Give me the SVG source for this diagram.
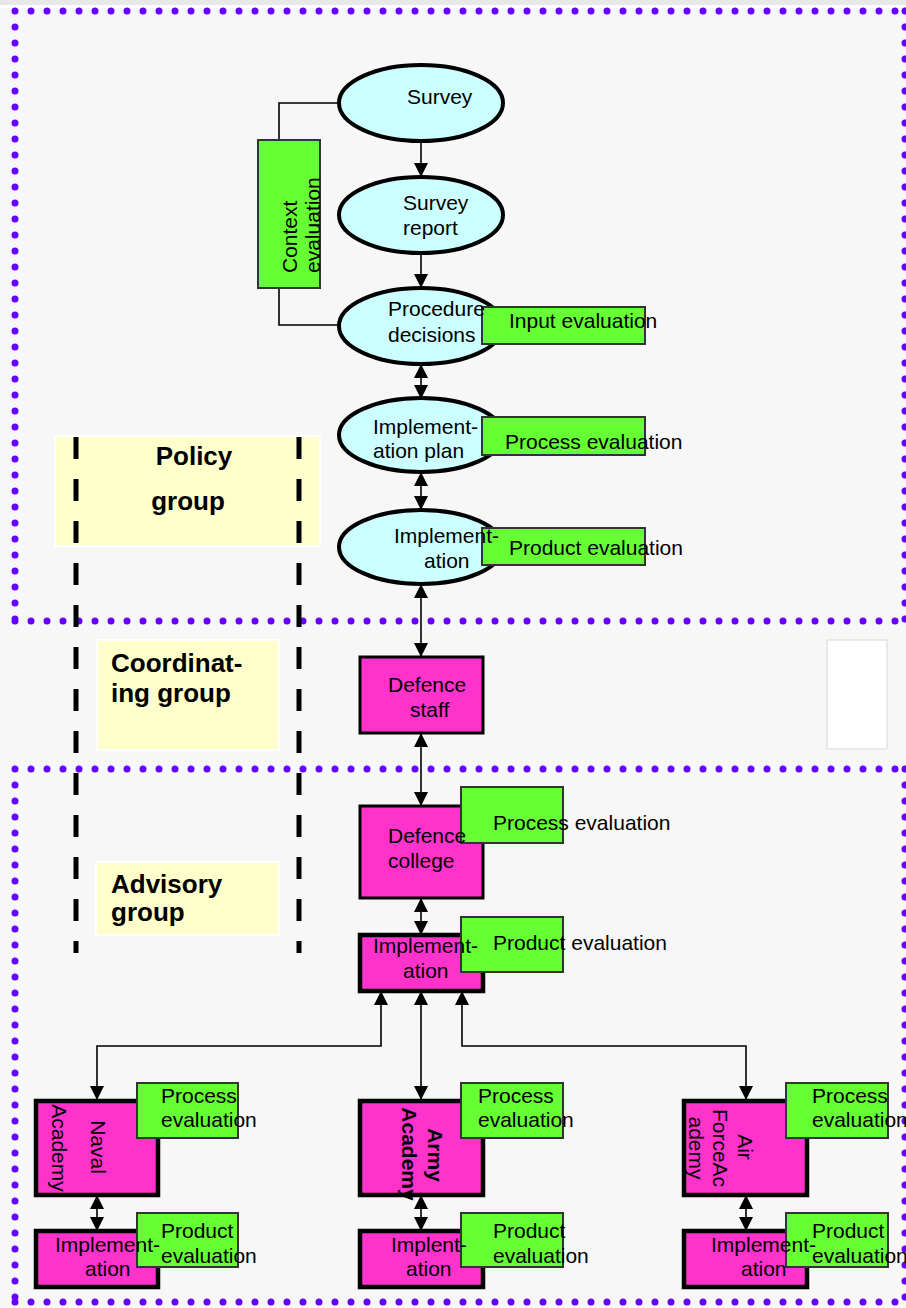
<svg xmlns="http://www.w3.org/2000/svg" width="906" height="1308" viewBox="0 0 906 1308">
<defs>
  <marker id="ah" markerUnits="userSpaceOnUse" markerWidth="14" markerHeight="14" refX="14" refY="7" orient="auto-start-reverse">
    <path d="M0,0 L14,7 L0,14 Z" fill="#000"/>
  </marker>
</defs>
<style>
  text{font-family:"Liberation Sans",Arial,sans-serif;font-size:21px;fill:#000}
  .grp{font-size:26px;font-weight:bold}
  .b{font-weight:bold}
  .ell{fill:#ccffff;stroke:#000;stroke-width:4}
  .ev{fill:#66ff33;stroke:#333;stroke-width:2}
  .mg{fill:#ff33cc;stroke:#000;stroke-width:3}
  .mg4{fill:#ff33cc;stroke:#000;stroke-width:4.5}
  .lab{fill:#ffffcc;stroke:#fff;stroke-width:2}
  .dot{fill:none;stroke:#6600ff;stroke-width:7;stroke-linecap:round;stroke-dasharray:0 16}
  .dash{stroke:#000;stroke-width:5;stroke-dasharray:22 20}
  .con{fill:none;stroke:#000;stroke-width:1.6}
  .arr{marker-end:url(#ah)}
  .arr2{marker-start:url(#ah);marker-end:url(#ah)}
</style>

<!-- page -->
<rect x="0" y="0" width="906" height="1308" fill="#f7f7f7"/>
<rect x="0" y="0" width="906" height="5" fill="#e8e8e8"/>
<rect x="0" y="5" width="906" height="3" fill="#ffffff"/>

<!-- zone frames -->
<g id="zones">
  <path class="dot" d="M15,11 H905 M15,11 V621 M905,11 V621 M15,621 H905"/>
  <path class="dot" d="M15,769 H905 M15,769 V1302 M905,769 V1302 M15,1302 H905"/>
</g>

<!-- group labels -->
<g id="policy-group">
  <rect class="lab" x="55" y="436" width="265" height="110"/>
  <text class="grp" x="194" y="465" text-anchor="middle">Policy</text>
  <text class="grp" x="188" y="510" text-anchor="middle">group</text>
</g>
<g id="coordinating-group">
  <rect class="lab" x="97" y="640" width="182" height="110"/>
  <text class="grp" x="111" y="672">Coordinat-</text>
  <text class="grp" x="111" y="702">ing group</text>
</g>
<g id="advisory-group">
  <rect class="lab" x="96" y="862" width="183" height="73"/>
  <text class="grp" x="111" y="893">Advisory</text>
  <text class="grp" x="111" y="921">group</text>
</g>
<g id="blank-panel">
  <rect x="827" y="640" width="60" height="109" fill="#ffffff" stroke="#e4e4e4" stroke-width="1.5"/>
</g>

<!-- group boundaries -->
<g id="bounds">
  <line class="dash" x1="76" y1="437" x2="76" y2="953"/>
  <line class="dash" x1="299" y1="437" x2="299" y2="953"/>
</g>

<!-- connectors -->
<g id="connectors">
  <path class="con" d="M338,103 H279 V140"/>
  <path class="con" d="M279,288 V325 H338"/>
  <line class="con arr" x1="421" y1="141" x2="421" y2="177"/>
  <line class="con arr" x1="421" y1="253" x2="421" y2="288"/>
  <line class="con arr2" x1="421" y1="364" x2="421" y2="399"/>
  <line class="con arr2" x1="421" y1="472" x2="421" y2="510"/>
  <line class="con arr2" x1="421" y1="584" x2="421" y2="657"/>
  <line class="con arr2" x1="421" y1="733" x2="421" y2="806"/>
  <line class="con arr2" x1="421" y1="898" x2="421" y2="935"/>
  <path class="con arr2" d="M381,991 V1046 H97 V1100"/>
  <line class="con arr2" x1="421" y1="991" x2="421" y2="1100"/>
  <path class="con arr2" d="M462,991 V1046 H746 V1100"/>
  <line class="con arr2" x1="97" y1="1195" x2="97" y2="1231"/>
  <line class="con arr2" x1="421" y1="1195" x2="421" y2="1231"/>
  <line class="con arr2" x1="746" y1="1195" x2="746" y2="1231"/>
</g>

<!-- policy level -->
<g id="context-evaluation">
  <rect class="ev" x="258" y="140" width="62" height="148"/>
  <text transform="translate(297,273) rotate(-90)">Context</text>
  <text transform="translate(320,273) rotate(-90)">evaluation</text>
</g>
<g id="survey">
  <ellipse class="ell" cx="421" cy="103" rx="82" ry="38"/>
  <text x="407" y="104">Survey</text>
</g>
<g id="survey-report">
  <ellipse class="ell" cx="421" cy="215" rx="82" ry="38"/>
  <text x="403" y="210">Survey</text>
  <text x="403" y="235">report</text>
</g>
<g id="procedure-decisions">
  <ellipse class="ell" cx="421" cy="326" rx="82" ry="38"/>
  <g id="input-evaluation"><rect class="ev" x="482" y="307" width="163" height="37"/></g>
  <text x="388" y="316">Procedure</text>
  <text x="388" y="342">decisions</text>
  <text x="509" y="328">Input evaluation</text>
</g>
<g id="implementation-plan">
  <ellipse class="ell" cx="421" cy="435" rx="82" ry="37"/>
  <g id="process-evaluation-1"><rect class="ev" x="482" y="417" width="163" height="38"/></g>
  <text x="373" y="434">Implement-</text>
  <text x="373" y="458">ation plan</text>
  <text x="505" y="449">Process evaluation</text>
</g>
<g id="implementation-1">
  <ellipse class="ell" cx="421" cy="547" rx="82" ry="37"/>
  <g id="product-evaluation-1"><rect class="ev" x="482" y="528" width="163" height="37"/></g>
  <text x="394" y="543">Implement-</text>
  <text x="424" y="568">ation</text>
  <text x="509" y="555">Product evaluation</text>
</g>

<!-- coordinating level -->
<g id="defence-staff">
  <rect class="mg" x="360" y="657" width="123" height="76"/>
  <text x="388" y="692">Defence</text>
  <text x="410" y="717">staff</text>
</g>

<!-- advisory level -->
<g id="defence-college">
  <rect class="mg" x="360" y="806" width="123" height="92"/>
  <g id="process-evaluation-2"><rect class="ev" x="461" y="787" width="102" height="56"/></g>
  <text x="388" y="843">Defence</text>
  <text x="388" y="868">college</text>
  <text x="493" y="830">Process evaluation</text>
</g>
<g id="implementation-2">
  <rect class="mg4" x="360" y="935" width="123" height="56"/>
  <g id="product-evaluation-2"><rect class="ev" x="461" y="917" width="102" height="55"/></g>
  <text x="373" y="953">Implement-</text>
  <text x="403" y="978">ation</text>
  <text x="493" y="950">Product evaluation</text>
</g>

<g id="naval-academy">
  <rect class="mg4" x="36" y="1101" width="122" height="94"/>
  <g id="process-evaluation-naval"><rect class="ev" x="137" y="1083" width="101" height="55"/></g>
  <text transform="translate(91,1147) rotate(90)" text-anchor="middle">Naval</text>
  <text transform="translate(52,1148) rotate(90)" text-anchor="middle">Academy</text>
  <text x="161" y="1103">Process</text>
  <text x="161" y="1127">evaluation</text>
</g>
<g id="naval-implementation">
  <rect class="mg4" x="36" y="1231" width="122" height="56"/>
  <g id="product-evaluation-naval"><rect class="ev" x="137" y="1213" width="101" height="54"/></g>
  <text x="55" y="1252">Implement-</text>
  <text x="85" y="1276">ation</text>
  <text x="161" y="1238">Product</text>
  <text x="161" y="1263">evaluation</text>
</g>

<g id="army-academy">
  <rect class="mg4" x="360" y="1101" width="123" height="94"/>
  <g id="process-evaluation-army"><rect class="ev" x="461" y="1083" width="102" height="55"/></g>
  <text class="b" transform="translate(428,1155) rotate(90)" text-anchor="middle">Army</text>
  <text class="b" transform="translate(402,1154) rotate(90)" text-anchor="middle">Academy</text>
  <text x="478" y="1103">Process</text>
  <text x="478" y="1127">evaluation</text>
</g>
<g id="army-implementation">
  <rect class="mg4" x="360" y="1231" width="123" height="56"/>
  <g id="product-evaluation-army"><rect class="ev" x="461" y="1213" width="102" height="54"/></g>
  <text x="391" y="1252">Implent-</text>
  <text x="406" y="1276">ation</text>
  <text x="493" y="1238">Product</text>
  <text x="493" y="1263">evaluation</text>
</g>

<g id="air-force-academy">
  <rect class="mg4" x="684" y="1101" width="123" height="94"/>
  <g id="process-evaluation-air"><rect class="ev" x="786" y="1083" width="102" height="55"/></g>
  <text transform="translate(738,1147) rotate(90)" text-anchor="middle">Air</text>
  <text transform="translate(713,1148) rotate(90)" text-anchor="middle">ForceAc</text>
  <text transform="translate(689,1148) rotate(90)" text-anchor="middle">ademy</text>
  <text x="812" y="1103">Process</text>
  <text x="812" y="1127">evaluation</text>
</g>
<g id="air-force-implementation">
  <rect class="mg4" x="684" y="1231" width="123" height="56"/>
  <g id="product-evaluation-air"><rect class="ev" x="786" y="1213" width="102" height="54"/></g>
  <text x="711" y="1252">Implement-</text>
  <text x="741" y="1276">ation</text>
  <text x="812" y="1238">Product</text>
  <text x="812" y="1263">evaluation</text>
</g>
</svg>
